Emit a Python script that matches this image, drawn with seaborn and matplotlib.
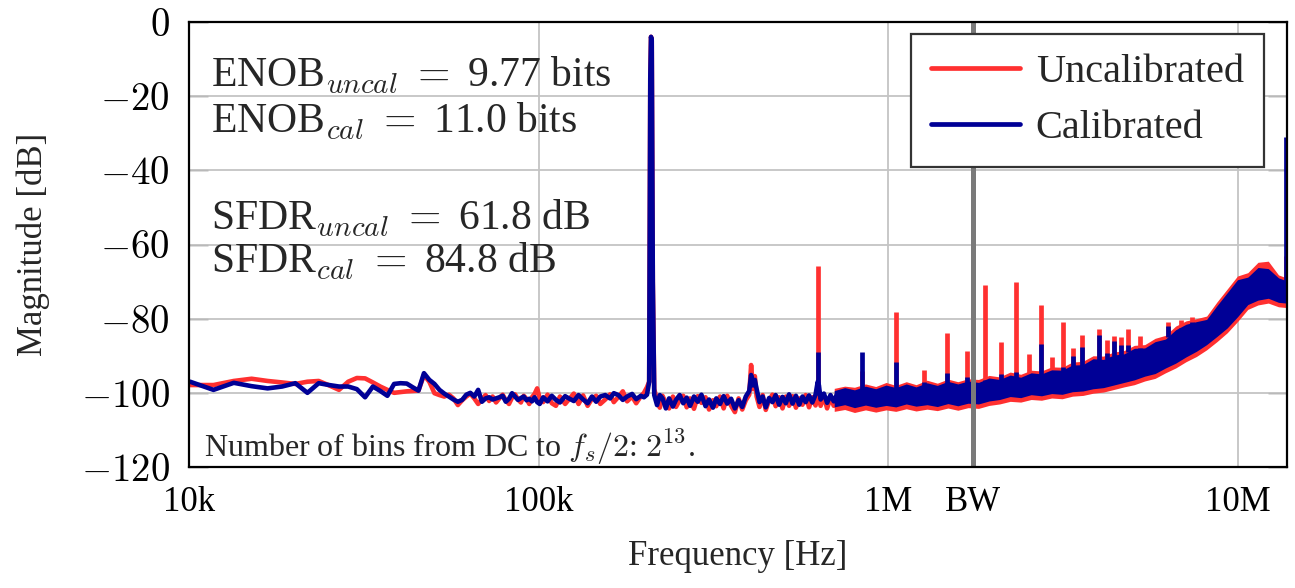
import numpy as np
import pandas as pd
import matplotlib
matplotlib.use("Agg")
import matplotlib.pyplot as plt
import seaborn as sns

# ---------------- data ----------------
# low-frequency part, FFT bins 10 kHz .. 100 kHz (kHz)
low_freq_khz = [10.07, 11.75, 13.43, 15.10, 16.78, 18.46, 20.14, 21.81, 23.49, 25.17,
                26.85, 28.53, 30.20, 31.88, 33.56, 35.24, 36.92, 38.59, 40.27, 41.95,
                43.63, 45.31, 46.98, 48.66, 50.34, 52.02, 53.70, 55.37, 57.05, 58.73,
                60.41, 62.09, 63.76, 65.44, 67.12, 68.80, 70.48, 72.15, 73.83, 75.51,
                77.19, 78.87, 80.54, 82.22, 83.90, 85.58, 87.26, 88.93, 90.61, 92.29,
                93.97, 95.65, 97.32, 99.00, 100.68]
low_cal_db = [-97.0, -99.2, -97.3, -98.2, -98.8, -98.3, -97.4, -100.0, -97.4, -97.9,
              -98.3, -98.3, -99.0, -101.2, -98.3, -99.5, -100.8, -97.6, -97.4, -97.5,
              -98.5, -99.4, -94.7, -96.5, -97.6, -99.2, -100.2, -101.0, -101.8, -102.4,
              -101.9, -100.5, -100.0, -101.0, -99.2, -102.4, -101.5, -101.2, -101.8, -101.5,
              -101.2, -100.8, -102.4, -101.6, -100.1, -101.0, -101.9, -101.4, -101.0, -102.0,
              -101.6, -102.3, -101.2, -102.5, -103.0]
low_uncal_db = [-97.9, -97.9, -96.8, -96.2, -96.8, -97.2, -97.6, -97.0, -96.8, -98.0,
                -99.2, -97.0, -96.0, -96.1, -97.2, -98.3, -99.2, -100.0, -99.8, -99.6,
                -99.5, -99.4, -95.2, -97.0, -100.1, -100.6, -101.0, -100.5, -101.5, -103.3,
                -102.0, -101.0, -100.2, -101.5, -103.0, -101.8, -100.6, -102.2, -101.0, -102.6,
                -101.5, -100.5, -102.0, -103.0, -101.3, -100.4, -101.8, -102.6, -100.8, -101.6,
                -103.0, -101.2, -100.3, -98.8, -101.5]

# mid part, 100 kHz .. 1 MHz (kHz), including the fundamental tone
mid_freq_khz = [103, 106, 109, 112, 115, 119, 122, 126, 130, 134, 138, 142, 146, 150, 155,
                160, 164, 169, 174, 179, 185, 190, 196, 200, 204, 207, 208.5, 209.5, 210.5, 212,
                214, 218, 222, 226, 231, 236, 242, 247, 253, 259, 265, 271, 278, 285, 292,
                300, 307, 315, 322, 330, 338, 346, 355, 364, 373, 382, 391, 400, 405, 410,
                415, 420, 428, 437, 446, 456, 466, 476, 487, 498, 509, 520, 532, 544, 556,
                568, 580, 593, 606, 619, 628, 633, 640, 654, 668, 683, 698, 713, 729, 745,
                762, 779, 796, 814, 832, 852, 871, 890, 910, 930, 951, 972, 994]
mid_cal_db = [-101.2, -102.3, -100.8, -101.9, -102.6, -100.9, -101.5, -102.2, -100.6, -101.8,
              -102.8, -101.0, -102.4, -101.0, -100.6, -101.5, -100.1, -100.6, -101.9, -101.0,
              -100.3, -101.7, -100.8, -101.2, -100.5, -97.0, -15.0, -4.0, -5.0, -70.0,
              -100.6, -103.3, -100.6, -101.5, -104.2, -101.5, -103.7, -101.9, -100.6, -102.8,
              -101.3, -103.5, -101.0, -102.4, -100.5, -103.6, -101.8, -104.0, -101.5, -103.0,
              -100.9, -102.9, -101.6, -104.2, -102.0, -103.8, -101.0, -99.5, -95.2, -98.0,
              -96.5, -99.0, -102.5, -101.0, -103.9, -101.4, -102.5, -100.6, -103.2, -101.1,
              -102.8, -100.4, -102.9, -100.8, -103.2, -101.0, -102.5, -100.7, -102.6, -100.5,
              -97.0, -98.0, -101.8, -100.2, -102.7, -100.6, -102.3, -100.4, -102.5, -100.2,
              -101.9, -99.8, -102.4, -100.3, -101.8, -99.5, -102.0, -99.8, -101.9, -99.8,
              -101.5, -99.6, -101.8]
mid_uncal_db = [-102.5, -100.5, -102.8, -103.5, -101.0, -103.0, -101.8, -100.2, -103.0, -100.7,
                -103.5, -101.6, -100.8, -103.0, -101.8, -100.4, -102.5, -101.1, -99.6, -102.3,
                -101.0, -102.8, -100.9, -100.0, -98.5, -97.0, -15.0, -4.0, -5.0, -70.0,
                -99.0, -102.0, -104.0, -100.8, -102.8, -104.2, -101.0, -103.8, -102.0, -100.8,
                -103.9, -101.5, -104.3, -100.9, -102.7, -101.2, -104.5, -102.0, -103.6, -101.0,
                -104.2, -100.8, -103.5, -105.2, -101.5, -104.5, -102.0, -100.5, -92.5, -99.0,
                -95.5, -101.0, -103.8, -100.6, -104.6, -102.0, -100.5, -103.6, -101.2, -104.2,
                -101.0, -103.5, -100.9, -104.0, -101.5, -103.2, -100.6, -103.9, -101.2, -103.4,
                -99.0, -100.0, -103.5, -101.0, -104.2, -101.3, -103.5, -100.8, -104.0, -101.5,
                -103.2, -100.7, -103.8, -101.0, -103.0, -101.2, -103.6, -100.5, -103.2, -100.9,
                -103.4, -100.6, -103.0]

# dense high-frequency part: lower / upper edges of the noise band (kHz)
band_freq_khz = [700, 750, 800, 860, 920, 985, 1050, 1125, 1200, 1290, 1380, 1480, 1580,
                 1690, 1810, 1940, 2080, 2230, 2390, 2560, 2740, 2930, 3140, 3360, 3600,
                 3850, 4120, 4410, 4720, 5050, 5410, 5790, 6200, 6630, 7100, 7600, 8130,
                 8700, 9310, 9960, 10660, 11400, 12200, 13050, 13750]
band_cal_hi = [-99.4, -98.6, -99.2, -98.2, -98.9, -97.9, -98.6, -97.6, -98.4, -97.3, -98.0,
               -96.9, -97.6, -96.8, -97.2, -96.0, -96.4, -95.2, -95.8, -94.6, -94.9, -93.8,
               -93.9, -92.5, -92.4, -90.8, -91.0, -89.8, -89.5, -88.0, -87.9, -86.2, -85.5,
               -83.0, -81.5, -80.8, -80.2, -76.5, -73.0, -69.5, -68.8, -66.2, -66.5, -69.0, -69.8]
band_cal_lo = [-103.8, -103.2, -104.0, -103.3, -103.9, -103.4, -103.8, -103.0, -103.6, -103.2,
               -103.7, -102.9, -103.5, -102.8, -103.0, -102.2, -101.8, -101.0, -101.3, -100.5,
               -100.8, -100.2, -100.4, -99.7, -99.5, -98.9, -98.6, -97.9, -97.2, -96.5, -95.5,
               -94.8, -93.3, -92.0, -90.3, -88.8, -87.0, -84.8, -82.5, -79.5, -76.2, -75.0,
               -74.5, -75.6, -75.8]
band_uncal_hi = [-98.8, -98.2, -98.5, -97.6, -98.3, -97.2, -98.0, -97.0, -97.8, -96.6, -97.4,
                 -96.3, -97.0, -96.2, -96.4, -95.3, -95.7, -94.4, -95.0, -93.9, -94.1, -93.0,
                 -93.1, -91.7, -91.5, -90.0, -90.1, -89.0, -88.6, -87.2, -87.0, -85.3, -84.5,
                 -82.0, -80.6, -80.0, -79.3, -75.5, -72.0, -68.5, -67.6, -64.8, -64.5, -68.2, -69.0]
band_uncal_lo = [-105.0, -104.5, -105.3, -104.6, -105.2, -104.6, -105.0, -104.3, -104.9, -104.4,
                 -104.8, -104.1, -104.7, -104.0, -104.2, -103.4, -103.0, -102.3, -102.5, -101.8,
                 -102.0, -101.4, -101.6, -100.9, -100.7, -100.1, -99.8, -99.1, -98.4, -97.8,
                 -96.8, -96.1, -94.6, -93.3, -91.6, -90.2, -88.4, -86.2, -83.8, -80.8, -77.5,
                 -76.3, -75.8, -76.8, -77.0]

# spurs (harmonics etc.) sticking out of the noise band (kHz, dB)
spur_freq_khz = [630, 843, 1052, 1262, 1472, 1683, 1893, 2104, 2314, 2524, 2735, 2945,
                 3155, 3366, 3575, 3995, 4206, 4416, 4627, 4837, 5258, 6310, 6850, 7400, 13690]
spur_base_db = [-100, -100, -100, -100, -99, -99, -99, -98, -98, -97, -97, -96,
                -95, -94, -94, -92, -91, -90, -90, -89, -88, -85, -84, -82, -72]
spur_uncal_db = [-65.8, -94.0, -78.2, -93.9, -83.9, -88.7, -70.9, -86.4, -70.2, -89.4,
                 -76.3, -90.3, -81.0, -88.0, -84.4, -82.8, -85.8, -84.6, -84.9, -82.8,
                 -84.6, -81.0, -80.4, -79.6, -63.0]
spur_cal_db = [-88.9, -88.9, -91.7, -97.0, -94.7, -95.8, -96.5, -95.0, -94.3, -95.6,
               -86.7, -94.7, -93.0, -90.0, -87.6, -84.4, -89.3, -86.0, -87.1, -87.0,
               -88.4, -82.0, -82.5, -81.0, -31.0]

bw_hz = 1.75e6
x_ticks = [1e4, 1e5, 1e6, bw_hz, 1e7]
x_tick_labels = ["10k", "100k", "1M", "BW", "10M"]
y_ticks = [-120, -100, -80, -60, -40, -20, 0]
y_tick_labels = [r"$-120$", r"$-100$", r"$-80$", r"$-60$", r"$-40$", r"$-20$", r"$0$"]
series_names = ["Uncalibrated", "Calibrated"]

# ---------------- style ----------------
RED = "#ff3030"
BLUE = "#000096"

sns.set_theme(style="white")
plt.rcParams["font.family"] = ["Liberation Serif", "DejaVu Serif"]
plt.rcParams["mathtext.fontset"] = "cm"
plt.rcParams["axes.unicode_minus"] = True

fig = plt.figure(figsize=(12.95, 5.88), dpi=100)
ax = fig.add_axes([189 / 1295, 1 - 467 / 588, (1287 - 189) / 1295, (467 - 22) / 588])

def line_frame(freqs_khz, vals):
    return pd.DataFrame({"f": np.asarray(freqs_khz, float) * 1e3, "db": vals})

unc = pd.concat([line_frame(low_freq_khz, low_uncal_db), line_frame(mid_freq_khz, mid_uncal_db)])
cal = pd.concat([line_frame(low_freq_khz, low_cal_db), line_frame(mid_freq_khz, mid_cal_db)])
band_f = np.asarray(band_freq_khz, float) * 1e3
spur_f = np.asarray(spur_freq_khz, float) * 1e3

LW = 3.3
# uncalibrated (red) underneath
ax.fill_between(band_f, band_uncal_lo, band_uncal_hi, color=RED, lw=0, zorder=2)
ax.vlines(spur_f, spur_base_db, spur_uncal_db, color=RED, lw=3.4, zorder=2)
sns.lineplot(data=unc, x="f", y="db", ax=ax, color=RED, lw=LW, estimator=None,
             sort=False, label=series_names[0], zorder=2)
# calibrated (blue) on top
ax.fill_between(band_f, band_cal_lo, band_cal_hi, color=BLUE, lw=0, zorder=3)
ax.vlines(spur_f, spur_base_db, spur_cal_db, color=BLUE, lw=3.4, zorder=3)
sns.lineplot(data=cal, x="f", y="db", ax=ax, color=BLUE, lw=LW, estimator=None,
             sort=False, label=series_names[1], zorder=3)

ax.axvline(bw_hz, color="#7a7a7a", lw=3.6, zorder=4)

ax.set_xscale("log")
ax.set_xlim(1e4, 1.38e7)
ax.set_ylim(-120, 0)
ax.set_xticks(x_ticks)
ax.set_xticklabels(x_tick_labels)
ax.xaxis.set_minor_locator(matplotlib.ticker.NullLocator())
ax.set_yticks(y_ticks)
ax.set_yticklabels(y_tick_labels)

# grid only on decade ticks and y ticks
for xv in [1e5, 1e6, 1e7]:
    ax.axvline(xv, color="#c4c4c4", lw=1.3, zorder=1)
for yv in y_ticks[1:-1]:
    ax.axhline(yv, color="#c4c4c4", lw=1.3, zorder=1)
ax.grid(False)

ax.tick_params(axis="x", which="both", length=0, pad=14, labelsize=25, colors="black")
ax.tick_params(axis="y", direction="in", length=14, width=1.0, color="#555555",
               pad=14, labelsize=28, left=True, right=True, labelcolor="black")
for s in ax.spines.values():
    s.set_color("black")
    s.set_linewidth(1.6)
    s.set_zorder(6)

ax.set_xlabel("Frequency [Hz]", fontsize=25, labelpad=15)
ax.set_ylabel("Magnitude [dB]", fontsize=25, labelpad=22)

txt_kw = dict(transform=ax.transAxes, fontsize=30, va="baseline", ha="left", zorder=7)
ax.text(0.02, 0.854, r"ENOB$_{uncal}$ $=$ 9.77 bits", **txt_kw)
ax.text(0.02, 0.751, r"ENOB$_{cal}$ $=$ 11.0 bits", **txt_kw)
ax.text(0.02, 0.533, r"SFDR$_{uncal}$ $=$ 61.8 dB", **txt_kw)
ax.text(0.02, 0.436, r"SFDR$_{cal}$ $=$ 84.8 dB", **txt_kw)
ax.text(0.014, 0.024, r"Number of bins from DC to $f_s/2$: $2^{13}$.",
        transform=ax.transAxes, fontsize=23, va="baseline", ha="left", zorder=7)

leg = ax.legend(loc="upper right", bbox_to_anchor=(0.979, 0.973), borderaxespad=0,
                fontsize=29, frameon=True, fancybox=False, framealpha=1,
                handlelength=2.2, handletextpad=0.4, borderpad=0.5, labelspacing=0.45)
leg.get_frame().set_edgecolor("#333333")
leg.get_frame().set_linewidth(1.6)
for h in leg.get_lines():
    h.set_linewidth(3.4)
leg.set_zorder(10)

fig.savefig("out.png", dpi=100)
